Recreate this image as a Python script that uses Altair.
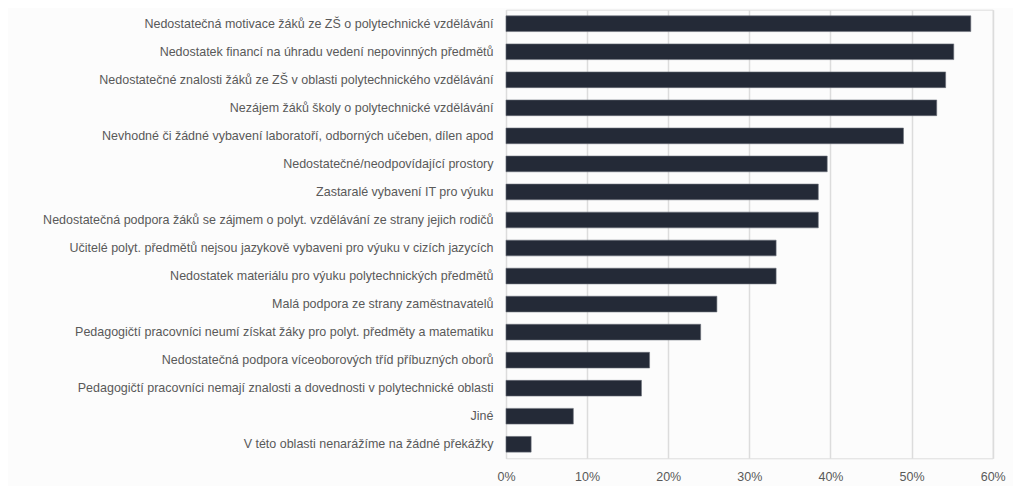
import altair as alt
import pandas as pd

categories = [
    "Nedostatečná motivace žáků ze ZŠ o polytechnické vzdělávání",
    "Nedostatek financí na úhradu vedení nepovinných předmětů ",
    "Nedostatečné znalosti žáků ze ZŠ v oblasti polytechnického vzdělávání",
    "Nezájem žáků školy o polytechnické vzdělávání ",
    "Nevhodné či žádné vybavení laboratoří, odborných učeben, dílen apod",
    "Nedostatečné/neodpovídající prostory",
    "Zastaralé vybavení IT pro výuku",
    "Nedostatečná podpora žáků se zájmem o polyt. vzdělávání ze strany jejich rodičů ",
    "Učitelé polyt. předmětů nejsou jazykově vybaveni pro výuku v cizích jazycích ",
    "Nedostatek materiálu pro výuku polytechnických předmětů",
    "Malá podpora ze strany zaměstnavatelů",
    "Pedagogičtí pracovníci neumí získat žáky pro polyt. předměty a matematiku",
    "Nedostatečná podpora víceoborových tříd příbuzných oborů",
    "Pedagogičtí pracovníci nemají znalosti a dovednosti v polytechnické oblasti ",
    "Jiné ",
    "V této oblasti nenarážíme na žádné překážky",
]
values = [0.573, 0.552, 0.542, 0.531, 0.490, 0.396, 0.385, 0.385,
          0.333, 0.333, 0.260, 0.240, 0.177, 0.167, 0.083, 0.031]

df = pd.DataFrame({"kategorie": categories, "podil": values})

FONT = "Liberation Sans"
LABEL_COLOR = "#595959"

chart = (
    alt.Chart(df)
    .mark_bar(color="#242a37", stroke="#6a6f78", strokeWidth=0.6)
    .encode(
        y=alt.Y(
            "kategorie:N",
            sort=categories,
            title=None,
            scale=alt.Scale(paddingInner=0.44, paddingOuter=0.22),
            axis=alt.Axis(
                ticks=False, tickSize=0, domain=False, grid=False,
                labelPadding=13, labelFont=FONT, labelFontSize=12.5,
                labelColor=LABEL_COLOR, labelLimit=0,
            ),
        ),
        x=alt.X(
            "podil:Q",
            title=None,
            scale=alt.Scale(domain=[0, 0.6], nice=False),
            axis=alt.Axis(
                format=".0%", values=[0, 0.1, 0.2, 0.3, 0.4, 0.5, 0.6],
                ticks=False, tickSize=0, domain=False, grid=True,
                gridColor="#dcdcdc", gridWidth=1.5,
                labelPadding=12, labelFont=FONT, labelFontSize=12.5,
                labelColor=LABEL_COLOR, labelOverlap=False, labelBound=False,
                labelFlush=False,
            ),
        ),
    )
    .properties(
        width=486.7,
        height=448.6,
        autosize=alt.AutoSizeParams(type="none"),
        padding={"left": 498, "top": 1.7, "right": 20, "bottom": 28},
    )
    .configure_view(stroke=None)
    .configure(background="#fcfcfc")
)

chart.save("out.html", embed_options={"renderer": "svg", "actions": False})
